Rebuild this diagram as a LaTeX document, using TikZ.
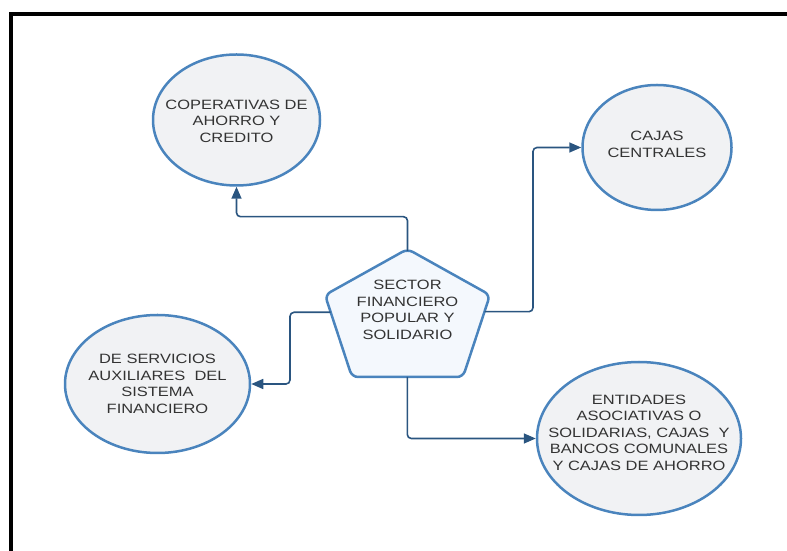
\documentclass[tikz,border=0pt]{standalone}
\usepackage{fontspec}
\setmainfont{Liberation Sans}[FakeStretch=1.22]
\usetikzlibrary{shapes.geometric, arrows.meta}

\definecolor{borde}{HTML}{4A84BD}
\definecolor{relleno}{HTML}{F1F2F4}
\definecolor{pentfill}{HTML}{F4F8FD}
\definecolor{flecha}{HTML}{2A5580}
\definecolor{letra}{HTML}{333333}

\begin{document}
\begin{tikzpicture}[x=1pt, y=1pt,
  bola/.style={draw=borde, fill=relleno, ellipse, line width=2.5pt, inner sep=0pt},
  texto/.style={align=center, text=letra, font=\fontsize{13.5}{16.5}\selectfont},
  conector/.style={draw=flecha, line width=1.6pt, rounded corners=4pt, -{Triangle[length=12pt, width=10pt]}}]
\useasboundingbox (0,0) rectangle (787,551);
\draw[line width=4pt] (11.3,0) -- (11.3,537) -- (787,537);

\node  (coop)[bola, minimum width=167pt, minimum height=131pt] at (236.5,431) {};
\node  (cajas)[bola, minimum width=149pt, minimum height=125pt] at (657,403.5) {};
\node  (serv)[bola, minimum width=185pt, minimum height=138pt] at (157.5,167) {};
\node  (entid)[bola, minimum width=204pt, minimum height=153pt] at (639,112.5) {};

\draw[draw=borde, fill=pentfill, line width=2.5pt, rounded corners=6pt]
  (407.5,302) -- (490,256) -- (463,174) -- (352,174) -- (325,256) -- cycle;
\coordinate (arriba) at (407.5,300);
\coordinate (derecha) at (484.5,239.3);
\coordinate (izquierda) at (330.5,238.7);
\coordinate (abajo) at (407.3,174);

\node  (coopt)[texto] at (236.5,429.7) {COPERATIVAS DE\\AHORRO Y\\CREDITO};
\node  (cajast)[texto] at (657,406.6) {CAJAS\\CENTRALES};
\node  (servt)[texto] at (157.5,167) {DE SERVICIOS\\AUXILIARES\ \ DEL\\SISTEMA\\FINANCIERO};
\node  (entidt)[texto] at (639,118.3) {ENTIDADES\\ASOCIATIVAS O\\SOLIDARIAS, CAJAS\ \ Y\\BANCOS COMUNALES\\Y CAJAS DE AHORRO};
\node  (sector)[texto] at (407.5,241) {SECTOR\\FINANCIERO\\POPULAR Y\\SOLIDARIO};

\draw[conector] (arriba) -- ++(0,34.3) -| (coop.south);
\draw[conector] (derecha) -- ++(48.5,0) |- (cajas.west);
\draw[conector] (izquierda) -- ++(-40.5,0) |- (serv.east);
\draw[conector] (abajo) |- (entid.west);
\end{tikzpicture}
\end{document}
